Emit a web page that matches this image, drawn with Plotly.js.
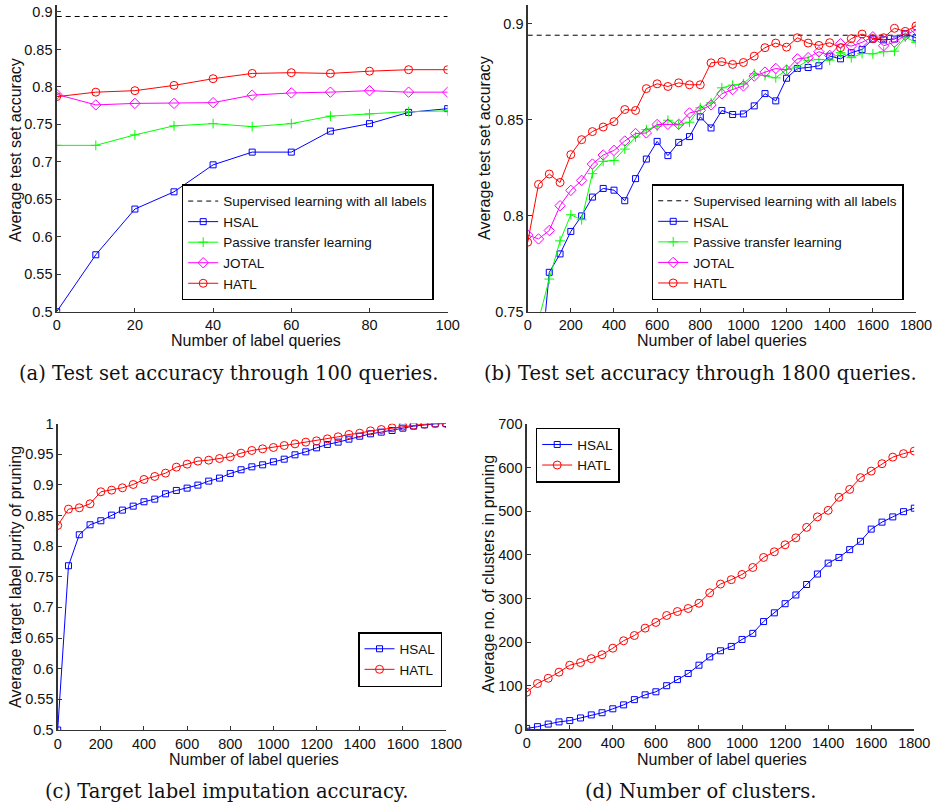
<!DOCTYPE html>
<html>
<head>
<meta charset="utf-8">
<script src="https://cdn.plot.ly/plotly-3.0.1.min.js"></script>
<style>html,body{margin:0;padding:0;background:#fff;}#chart{width:932px;height:804px;}</style>
</head>
<body>
<div id="chart"></div>
<script>
// ---------- Data ----------
const supervisedLevel = 0.894;

// (a) 0..100 queries
const xA = [0, 10, 20, 30, 40, 50, 60, 70, 80, 90, 100];
const hsalA    = [0.500, 0.576, 0.637, 0.660, 0.696, 0.713, 0.713, 0.741, 0.751, 0.766, 0.771];
const passiveA = [0.722, 0.722, 0.736, 0.748, 0.751, 0.747, 0.751, 0.761, 0.764, 0.767, 0.768];
const jotalA   = [0.790, 0.776, 0.778, 0.778, 0.779, 0.789, 0.792, 0.793, 0.795, 0.793, 0.793];
const hatlA    = [0.787, 0.793, 0.795, 0.802, 0.811, 0.818, 0.819, 0.818, 0.821, 0.823, 0.823];

// (b) 0..1800 queries
const xB = [0,50,100,150,200,250,300,350,400,450,500,550,600,650,700,750,800,850,900,950,1000,1050,1100,1150,1200,1250,1300,1350,1400,1450,1500,1550,1600,1650,1700,1750,1800];
const hsalB = [0.500,0.710,0.7705,0.7801,0.7918,0.7999,0.8097,0.8142,0.8133,0.8078,0.8193,0.8295,0.8387,0.8313,0.8382,0.8412,0.8515,0.8457,0.8548,0.8527,0.8530,0.8572,0.8636,0.8598,0.8716,0.8767,0.8772,0.8781,0.8831,0.8817,0.8849,0.8866,0.8920,0.8916,0.8920,0.8948,0.8927];
const passiveB = [0.722,0.7455,0.7670,0.7869,0.8005,0.7979,0.8219,0.8283,0.8288,0.8347,0.8410,0.8448,0.8466,0.8497,0.8473,0.8487,0.8562,0.8588,0.8666,0.8680,0.8687,0.8739,0.8730,0.8718,0.8762,0.8774,0.8809,0.8814,0.8810,0.8849,0.8823,0.8845,0.8843,0.8854,0.8857,0.8930,0.8903];
const jotalB = [0.7899,0.7879,0.7923,0.8052,0.8132,0.8184,0.8269,0.8316,0.8340,0.8389,0.8428,0.8431,0.8475,0.8476,0.8476,0.8535,0.8548,0.8577,0.8635,0.8657,0.8676,0.8727,0.8748,0.8767,0.8758,0.8817,0.8823,0.8854,0.8835,0.8896,0.8883,0.8903,0.8932,0.8885,0.8904,0.8939,0.8969];
const hatlB = [0.7862,0.8163,0.8217,0.8173,0.8318,0.8396,0.8438,0.8462,0.8490,0.8553,0.8548,0.8662,0.8687,0.8673,0.8692,0.8682,0.8682,0.8796,0.8802,0.8788,0.8798,0.8831,0.8875,0.8899,0.8878,0.8927,0.8899,0.8887,0.8901,0.8875,0.8922,0.8946,0.8922,0.8927,0.8976,0.8960,0.8988];

// (c) target label purity
const xC = xB;
const hsalC = [0.500,0.768,0.8185,0.8348,0.8413,0.8505,0.8587,0.8652,0.8723,0.8766,0.8853,0.8908,0.8946,0.8995,0.9060,0.9109,0.9185,0.9245,0.9293,0.9326,0.9375,0.9418,0.9489,0.9538,0.9603,0.9658,0.9696,0.9745,0.9793,0.9832,0.9859,0.9886,0.9924,0.9957,0.9978,0.9995,1.000];
const hatlC = [0.8337,0.8603,0.8625,0.8690,0.8886,0.8913,0.8951,0.9005,0.9087,0.9136,0.9190,0.9288,0.9337,0.9386,0.9402,0.9429,0.9457,0.9516,0.9560,0.9587,0.9609,0.9641,0.9668,0.9696,0.9717,0.9750,0.9783,0.9821,0.9842,0.9880,0.9902,0.9929,0.9957,0.9973,0.9989,1.000,1.000];

// (d) number of clusters
const xD = xB;
const hsalD = [2,6,12,17,20,26,33,38,47,56,68,79,86,100,114,128,147,166,180,190,206,220,247,267,288,308,332,356,381,394,412,431,459,475,487,499,507];
const hatlD = [85,105,117,131,147,153,162,171,186,203,215,232,245,261,270,277,289,313,333,343,355,371,394,407,423,439,463,487,502,532,550,577,592,609,624,632,638];

// Tick labels
const xTicksA = [0, 20, 40, 60, 80, 100];
const xTicksB = [0, 200, 400, 600, 800, 1000, 1200, 1400, 1600, 1800];
const yTicksA = [0.5, 0.55, 0.6, 0.65, 0.7, 0.75, 0.8, 0.85, 0.9];
const yTicksB = [0.75, 0.8, 0.85, 0.9];
const yTicksC = [0.5, 0.55, 0.6, 0.65, 0.7, 0.75, 0.8, 0.85, 0.9, 0.95, 1];
const yTicksD = [0, 100, 200, 300, 400, 500, 600, 700];

const names = {
  sup: 'Supervised learning with all labels',
  hsal: 'HSAL', passive: 'Passive transfer learning', jotal: 'JOTAL', hatl: 'HATL'
};

// ---------- Styles ----------
const W = 932, H = 804;
const BLUE = '#0000ff', GREEN = '#00ff00', MAG = '#ff00ff', RED = '#ff0000';
const sty = {
  hsal:    {color: BLUE,  symbol: 'square-open',      size: 6},
  passive: {color: GREEN, symbol: 'cross-thin-open',  size: 7},
  jotal:   {color: MAG,   symbol: 'diamond-open',     size: 8},
  hatl:    {color: RED,   symbol: 'circle-open',      size: 8}
};
function tr(x, y, key, xa, ya, legend) {
  const s = sty[key];
  return {
    x: x, y: y, name: names[key], type: 'scatter', mode: 'lines+markers',
    xaxis: xa, yaxis: ya, legend: legend, cliponaxis: true,
    line: {color: s.color, width: 1},
    marker: {symbol: s.symbol, size: s.size, color: s.color, line: {color: s.color, width: 1}}
  };
}
function supTr(x, xa, ya, legend) {
  return {
    x: [x[0], x[x.length - 1]], y: [supervisedLevel, supervisedLevel],
    name: names.sup, type: 'scatter', mode: 'lines', xaxis: xa, yaxis: ya, legend: legend,
    line: {color: '#000', width: 1, dash: '5px,4px'}
  };
}

const traces = [
  supTr(xA, 'x', 'y', 'legend'),
  tr(xA, hsalA, 'hsal', 'x', 'y', 'legend'),
  tr(xA, passiveA, 'passive', 'x', 'y', 'legend'),
  tr(xA, jotalA, 'jotal', 'x', 'y', 'legend'),
  tr(xA, hatlA, 'hatl', 'x', 'y', 'legend'),
  supTr(xB, 'x2', 'y2', 'legend2'),
  tr(xB, hsalB, 'hsal', 'x2', 'y2', 'legend2'),
  tr(xB, passiveB, 'passive', 'x2', 'y2', 'legend2'),
  tr(xB, jotalB, 'jotal', 'x2', 'y2', 'legend2'),
  tr(xB, hatlB, 'hatl', 'x2', 'y2', 'legend2'),
  tr(xC, hsalC, 'hsal', 'x3', 'y3', 'legend3'),
  tr(xC, hatlC, 'hatl', 'x3', 'y3', 'legend3'),
  tr(xD, hsalD, 'hsal', 'x4', 'y4', 'legend4'),
  tr(xD, hatlD, 'hatl', 'x4', 'y4', 'legend4')
];

const SANS = 'Liberation Sans, Arial, Helvetica, sans-serif';
const AXC = '#333';
function px(v) { return v / W; }
function py(v) { return 1 - v / H; }
function axis(domain, range, ticks, anchor) {
  return {
    domain: domain, range: range, anchor: anchor,
    tickmode: 'array', tickvals: ticks, ticktext: ticks.map(String),
    ticks: 'inside', ticklen: 4, tickwidth: 1, tickcolor: AXC,
    showline: true, linecolor: AXC, linewidth: 1.3, mirror: false,
    showgrid: false, zeroline: false, fixedrange: true,
    ticklabeloverflow: 'allow',
    tickfont: {family: SANS, size: 14.5, color: '#111'}
  };
}
function legendAt(x, y) {
  return {
    x: px(x), y: py(y), xanchor: 'left', yanchor: 'top', xref: 'paper', yref: 'paper',
    bgcolor: '#fff', bordercolor: '#000', borderwidth: 1.5,
    font: {family: SANS, size: 13.5, color: '#111'}, tracegroupgap: 0, itemwidth: 30
  };
}
function ann(text, x, y, opts) {
  return Object.assign({
    text: text, x: px(x), y: py(y), xref: 'paper', yref: 'paper',
    xanchor: 'center', yanchor: 'middle', showarrow: false,
    font: {family: SANS, size: 16, color: '#111'}
  }, opts || {});
}
const SERIF = {family: 'DejaVu Serif, serif', size: 19.5, color: '#111'};

const yTop = [py(311.7), py(4.5)];
const yBot = [py(730), py(423.5)];

const layout = {
  width: W, height: H, margin: {l: 0, r: 0, t: 0, b: 0},
  paper_bgcolor: '#fff', plot_bgcolor: 'rgba(0,0,0,0)', showlegend: true,
  font: {family: SANS, size: 14, color: '#111'},
  xaxis:  axis([px(56.7), px(447.7)], [0, 100], xTicksA, 'y'),
  yaxis:  axis(yTop, [0.5, 0.91], yTicksA, 'x'),
  xaxis2: axis([px(527.7), px(916)], [0, 1800], xTicksB, 'y2'),
  yaxis2: axis(yTop, [0.75, 0.91], yTicksB, 'x2'),
  xaxis3: axis([px(57.7), px(446)], [0, 1800], xTicksB, 'y3'),
  yaxis3: axis(yBot, [0.5, 1.0], yTicksC, 'x3'),
  xaxis4: axis([px(526.7), px(914.3)], [0, 1800], xTicksB, 'y4'),
  yaxis4: axis([py(729.3), py(424)], [0, 700], yTicksD, 'x4'),
  legend:  legendAt(181.7, 184.3),
  legend2: legendAt(651.7, 184),
  legend3: legendAt(358, 632),
  legend4: legendAt(535.7, 427.7),
  annotations: [
    ann('Number of label queries', 256, 340.7),
    ann('Number of label queries', 722, 340.7),
    ann('Number of label queries', 254, 759),
    ann('Number of label queries', 722, 759),
    ann('Average test set accuracy', 15, 150, {textangle: -90}),
    ann('Average test set accuracy', 485, 148, {textangle: -90}),
    ann('Average target label purity of pruning', 15, 577, {textangle: -90}),
    ann('Average no. of clusters in pruning', 488, 574, {textangle: -90}),
    ann('(a) Test set accuracy through 100 queries.', 228, 373, {font: SERIF}),
    ann('(b) Test set accuracy through 1800 queries.', 700, 373, {font: SERIF}),
    ann('(c) Target label imputation accuracy.', 226, 791, {font: SERIF}),
    ann('(d) Number of clusters.', 700, 791, {font: SERIF})
  ]
};

Plotly.newPlot('chart', traces, layout, {staticPlot: true, displayModeBar: false});
</script>
</body>
</html>
